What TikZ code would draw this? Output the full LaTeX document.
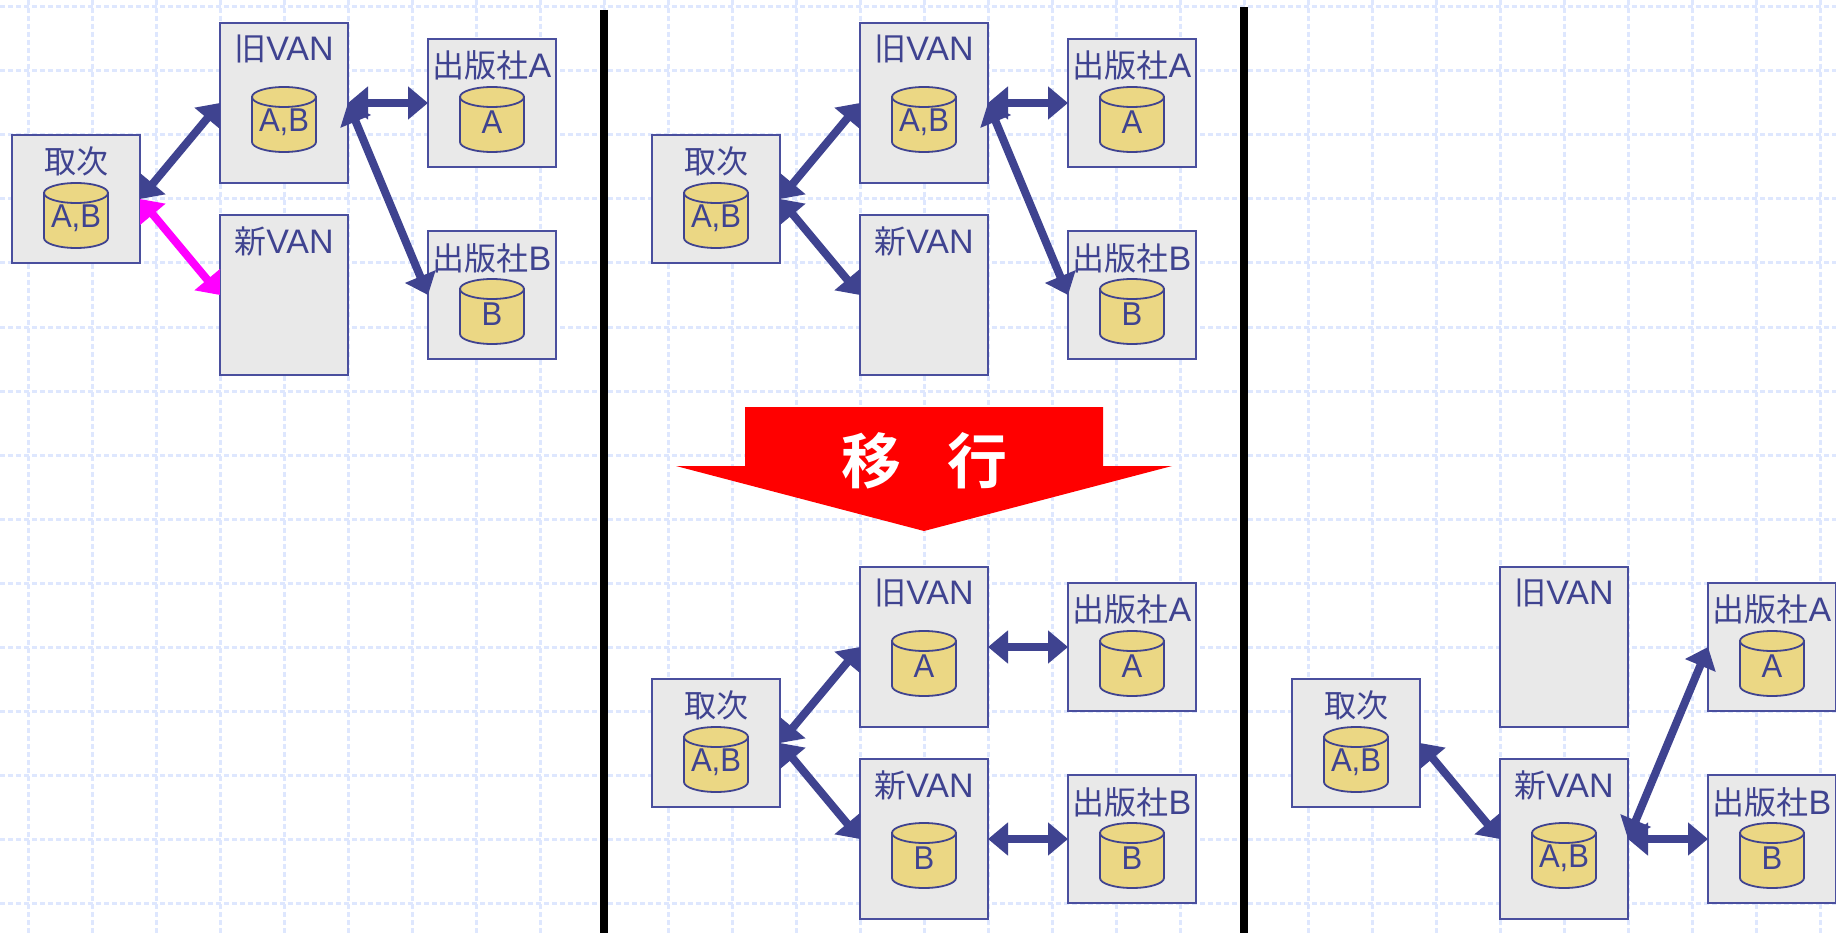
\documentclass[tikz,border=0pt]{standalone}
\usepackage{fontspec}
\usetikzlibrary{arrows.meta}
\setmainfont{Liberation Sans}
\newfontfamily\dbfont[FakeStretch=0.94]{Liberation Sans}
\newfontfamily\jpfont{Noto Sans CJK JP}
\newfontfamily\jpbold{Noto Sans CJK JP Bold}
\newcommand\jp[1]{{\jpfont\fontsize{32}{32}\selectfont #1}}
\definecolor{ink}{HTML}{3F4390}
\definecolor{edge}{HTML}{4A4F9E}
\definecolor{panel}{HTML}{E9E9E9}
\definecolor{dbfill}{HTML}{EBD784}
\definecolor{gridc}{HTML}{DEE7FE}
\definecolor{mag}{HTML}{FF00FF}
\tikzset{
 x=1pt,y=-1pt,
 boxnode/.style={draw=edge,fill=panel,line width=2.2pt,outer sep=0pt,inner sep=0pt},
 vanbox/.style={boxnode,minimum width=128pt,minimum height=160pt},
 sqbox/.style={boxnode,minimum width=128pt,minimum height=128pt},
 boxlabel/.style={text=ink,font=\fontsize{34}{34}\selectfont,inner sep=0pt,anchor=center},
 dbtext/.style={text=ink,font=\dbfont\fontsize{33}{33}\selectfont,inner sep=0pt,anchor=center},
 cylpart/.style={draw=ink,fill=dbfill,line width=1.8pt},
 gridline/.style={draw=gridc,line width=3pt,dash pattern=on 5pt off 3pt},
 divider/.style={draw=black,line width=8pt},
 link/.style={draw=ink,line width=8pt,{Triangle[length=20pt,width=32pt]}-{Triangle[length=20pt,width=32pt]}},
 maglink/.style={link,draw=mag},
}
% name, centre x, top y, text
\newcommand\dbcyl[4]{%
 \begin{scope}[shift={(#2,#3)}]
 \path[cylpart] (-32,10) -- (-32,55) .. controls (-32,60.5) and (-17.7,65) .. (0,65)
   .. controls (17.7,65) and (32,60.5) .. (32,55) -- (32,10) -- cycle;
 \path[cylpart] (0,10) ellipse[x radius=32,y radius=10];
 \node[dbtext] (#1) at (0,35) {#4};
 \end{scope}}
% prefix, x offset, y offset, old db text, new db text
\newcommand\scene[5]{%
 \begin{scope}[shift={(#2,#3)}]
 \node[sqbox]  (#1t) at (76,199) {};
 \node[vanbox] (#1o) at (284,103) {};
 \node[vanbox] (#1n) at (284,295) {};
 \node[sqbox]  (#1a) at (492,103) {};
 \node[sqbox]  (#1b) at (492,295) {};
 \node[boxlabel] (#1tl) at (76,161) {\jp{取次}};
 \node[boxlabel] (#1ol) at (284,49) {\jp{旧}VAN};
 \node[boxlabel] (#1nl) at (284,241) {\jp{新}VAN};
 \node[boxlabel] (#1al) at (492,65.5) {\jp{出版社}A};
 \node[boxlabel] (#1bl) at (492,258) {\jp{出版社}B};
 \dbcyl{#1td}{76}{183}{A,B}
 \if\relax#4\relax\else\dbcyl{#1od}{284}{87}{#4}\fi
 \if\relax#5\relax\else\dbcyl{#1nd}{284}{279}{#5}\fi
 \dbcyl{#1ad}{492}{87}{A}
 \dbcyl{#1bd}{492}{279}{B}
 \end{scope}}
\begin{document}
\begin{tikzpicture}
\useasboundingbox (0,0) rectangle (1836,933);
\clip (0,0) rectangle (1836,933);
\fill[white] (0,0) rectangle (1836,933);
% grid
\foreach \k in {0,...,14} {\draw[gridline] (0,7+64*\k) -- (1836,7+64*\k);}
\foreach \k in {0,...,28} {\draw[gridline] (28+64*\k,0) -- (28+64*\k,933);}
% dividers
\coordinate (d1t) at (604,10);
\coordinate (d1b) at (604,933);
\coordinate (d2t) at (1244,7);
\coordinate (d2b) at (1244,933);
\draw[divider] (d1t) -- (d1b);
\draw[divider] (d2t) -- (d2b);
% scenes
\scene{p}{0}{0}{A,B}{}
\scene{q}{640}{0}{A,B}{}
\scene{r}{640}{544}{A}{B}
\scene{s}{1280}{544}{}{A,B}
% migration arrow
\fill[red] (745,407) -- (1103,407) -- (1103,466) -- (1172,466) -- (924,531) -- (676,466) -- (745,466) -- cycle;
\node[text=white,font=\jpbold\fontsize{60}{60}\selectfont,inner sep=0pt] (mig1) at (871,461) {移};
\node[text=white,font=\jpbold\fontsize{60}{60}\selectfont,inner sep=0pt] (mig2) at (977,461) {行};
% connectors
\draw[link] (pt.east) -- (po.west);
\draw[maglink] (pt.east) -- (pn.west);
\draw[link] (po.east) -- (pa.west);
\draw[link] (po.east) -- (pb.west);
\draw[link] (qt.east) -- (qo.west);
\draw[link] (qt.east) -- (qn.west);
\draw[link] (qo.east) -- (qa.west);
\draw[link] (qo.east) -- (qb.west);
\draw[link] (rt.east) -- (ro.west);
\draw[link] (rt.east) -- (rn.west);
\draw[link] (ro.east) -- (ra.west);
\draw[link] (rn.east) -- (rb.west);
\draw[link] (st.east) -- (sn.west);
\draw[link] (sn.east) -- (sa.west);
\draw[link] (sn.east) -- (sb.west);
\end{tikzpicture}
\end{document}
